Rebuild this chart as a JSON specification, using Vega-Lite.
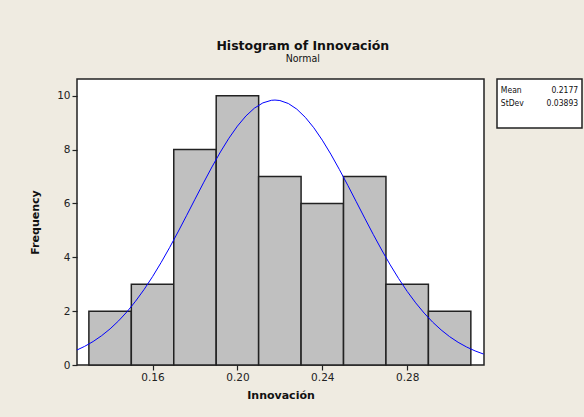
{
  "$schema": "https://vega.github.io/schema/vega-lite/v6.json",
  "background": "#EFEBE1",
  "padding": {"left": 28, "top": 40, "right": 2, "bottom": 17},
  "title": {
    "text": "Histogram of Innovación",
    "subtitle": "Normal",
    "font": "DejaVu Sans",
    "fontSize": 12.5,
    "fontWeight": "bold",
    "color": "#111111",
    "subtitleFont": "DejaVu Sans Condensed, DejaVu Sans",
    "subtitleFontSize": 10.5,
    "subtitleColor": "#111111",
    "subtitlePadding": 1,
    "anchor": "middle",
    "dx": -3,
    "offset": 14
  },
  "datasets": {
    "bins": [
      {"bin_start": 0.13, "bin_end": 0.15, "frequency": 2},
      {"bin_start": 0.15, "bin_end": 0.17, "frequency": 3},
      {"bin_start": 0.17, "bin_end": 0.19, "frequency": 8},
      {"bin_start": 0.19, "bin_end": 0.21, "frequency": 10},
      {"bin_start": 0.21, "bin_end": 0.23, "frequency": 7},
      {"bin_start": 0.23, "bin_end": 0.25, "frequency": 6},
      {"bin_start": 0.25, "bin_end": 0.27, "frequency": 7},
      {"bin_start": 0.27, "bin_end": 0.29, "frequency": 3},
      {"bin_start": 0.29, "bin_end": 0.31, "frequency": 2}
    ],
    "curve": [
      {"x": 0.124, "density": 0.543},
      {"x": 0.128, "density": 0.692},
      {"x": 0.132, "density": 0.872},
      {"x": 0.136, "density": 1.088},
      {"x": 0.140, "density": 1.342},
      {"x": 0.144, "density": 1.639},
      {"x": 0.148, "density": 1.980},
      {"x": 0.152, "density": 2.369},
      {"x": 0.156, "density": 2.802},
      {"x": 0.160, "density": 3.280},
      {"x": 0.164, "density": 3.800},
      {"x": 0.168, "density": 4.355},
      {"x": 0.172, "density": 4.940},
      {"x": 0.176, "density": 5.543},
      {"x": 0.180, "density": 6.155},
      {"x": 0.184, "density": 6.763},
      {"x": 0.188, "density": 7.354},
      {"x": 0.192, "density": 7.912},
      {"x": 0.196, "density": 8.422},
      {"x": 0.200, "density": 8.871},
      {"x": 0.204, "density": 9.247},
      {"x": 0.208, "density": 9.537},
      {"x": 0.212, "density": 9.733},
      {"x": 0.216, "density": 9.829},
      {"x": 0.2177, "density": 9.838},
      {"x": 0.220, "density": 9.821},
      {"x": 0.224, "density": 9.710},
      {"x": 0.228, "density": 9.500},
      {"x": 0.232, "density": 9.196},
      {"x": 0.236, "density": 8.809},
      {"x": 0.240, "density": 8.349},
      {"x": 0.244, "density": 7.831},
      {"x": 0.248, "density": 7.267},
      {"x": 0.252, "density": 6.673},
      {"x": 0.256, "density": 6.064},
      {"x": 0.260, "density": 5.452},
      {"x": 0.264, "density": 4.850},
      {"x": 0.268, "density": 4.270},
      {"x": 0.272, "density": 3.719},
      {"x": 0.276, "density": 3.206},
      {"x": 0.280, "density": 2.734},
      {"x": 0.284, "density": 2.308},
      {"x": 0.288, "density": 1.927},
      {"x": 0.292, "density": 1.592},
      {"x": 0.296, "density": 1.302},
      {"x": 0.300, "density": 1.053},
      {"x": 0.304, "density": 0.843},
      {"x": 0.308, "density": 0.668},
      {"x": 0.312, "density": 0.523},
      {"x": 0.316, "density": 0.406}
    ],
    "stats": [
      {"stat": "Mean", "value": "0.2177"},
      {"stat": "StDev", "value": "0.03893"}
    ]
  },
  "spacing": 11,
  "hconcat": [
    {
      "width": 407,
      "height": 286,
      "layer": [
        {
          "data": {"name": "bins"},
          "mark": {"type": "rect", "fill": "#C0C0C0", "stroke": "#222222", "strokeWidth": 1.5},
          "encoding": {
            "x": {
              "field": "bin_start",
              "type": "quantitative",
              "scale": {"domain": [0.1244, 0.3162], "nice": false, "zero": false},
              "axis": {"values": [0.16, 0.2, 0.24, 0.28], "format": ".2f"},
              "title": "Innovación"
            },
            "x2": {"field": "bin_end"},
            "y": {
              "field": "frequency",
              "type": "quantitative",
              "scale": {"domain": [0, 10.62], "nice": false},
              "axis": {"values": [0, 2, 4, 6, 8, 10]},
              "title": "Frequency"
            },
            "y2": {"datum": 0}
          }
        },
        {
          "data": {"name": "curve"},
          "mark": {"type": "line", "color": "#0000FF", "strokeWidth": 1, "clip": true},
          "encoding": {
            "x": {"field": "x", "type": "quantitative"},
            "y": {"field": "density", "type": "quantitative"}
          }
        }
      ]
    },
    {
      "width": 85,
      "height": 49,
      "data": {"name": "stats"},
      "encoding": {
        "y": {
          "field": "stat",
          "type": "nominal",
          "scale": {"type": "point", "domain": ["Mean", "StDev"], "range": [11, 24], "padding": 0},
          "axis": null
        }
      },
      "layer": [
        {
          "mark": {"type": "text", "align": "left", "baseline": "middle", "fontSize": 8.5, "font": "DejaVu Sans Condensed, DejaVu Sans", "color": "#111111"},
          "encoding": {
            "x": {"datum": "label", "type": "nominal", "scale": {"type": "point", "domain": ["label", "value"], "padding": 0.05}, "axis": null},
            "text": {"field": "stat"}
          }
        },
        {
          "mark": {"type": "text", "align": "right", "baseline": "middle", "fontSize": 8.5, "font": "DejaVu Sans Condensed, DejaVu Sans", "color": "#111111"},
          "encoding": {
            "x": {"datum": "value", "type": "nominal"},
            "text": {"field": "value"}
          }
        }
      ]
    }
  ],
  "config": {
    "view": {"stroke": "#222222", "strokeWidth": 1.5, "fill": "#FFFFFF"},
    "axis": {
      "grid": false,
      "domain": false,
      "ticks": true,
      "tickColor": "#222222",
      "tickSize": 5,
      "tickWidth": 1.2,
      "labelFont": "DejaVu Sans",
      "labelFontSize": 10.5,
      "labelColor": "#222222",
      "labelPadding": 2,
      "titleFont": "DejaVu Sans",
      "titleFontSize": 11,
      "titleFontWeight": "bold",
      "titleColor": "#111111"
    },
    "axisY": {"titlePadding": 16},
    "axisX": {"titlePadding": 7}
  }
}
